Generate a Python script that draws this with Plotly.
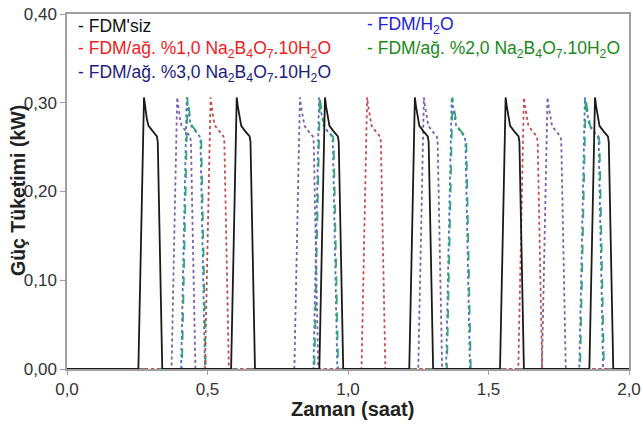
import plotly.graph_objects as go

# Pulse profile (offset from pulse start in hours, power in kW)
profile_dt = [0.0, 0.020, 0.024, 0.030, 0.036, 0.050, 0.066, 0.069, 0.085]
profile_kw = [0.0, 0.306, 0.296, 0.282, 0.274, 0.268, 0.262, 0.256, 0.0]

# Pulse start times (hours) for each series
starts_fdmsiz = [0.254, 0.584, 0.898, 1.218, 1.541, 1.859]
starts_h2o = [0.406, 0.877, 1.349, 1.823]
starts_p1 = [0.491, 1.048, 1.606]
starts_p2 = [0.409, 0.880, 1.352, 1.826]
starts_p3 = [0.372, 0.809, 1.250, 1.690]

x_range = [0.0, 2.0]
y_range = [0.0, 0.40]
x_title = "Zaman (saat)"
y_title = "Güç Tüketimi (kW)"

def build(starts):
    xs, ys = [x_range[0]], [0.0]
    for s in starts:
        for dt, v in zip(profile_dt, profile_kw):
            xs.append(s + dt)
            ys.append(v)
    xs.append(x_range[1]); ys.append(0.0)
    return xs, ys

series = [
    ("FDM/H2O", starts_h2o, "#4a6fc8", "dot"),
    ("FDM/ağ. %2,0", starts_p2, "#34a57c", "dash"),
    ("FDM/ağ. %3,0", starts_p3, "#7e5fa8", "dot"),
    ("FDM/ağ. %1,0", starts_p1, "#c0504d", "dot"),
    ("FDM'siz", starts_fdmsiz, "#1a1a1a", "solid"),
]

FONT = "Liberation Sans, Arial, sans-serif"

W, H = 643, 424
L, R, T, B = 67, 14, 14, 55
pw, ph = W - L - R, H - T - B

def px2paper(px, py):
    return (px - L) / pw, (H - B - py) / ph

fig = go.Figure()
for name, st, col, dash in series:
    xs, ys = build(st)
    fig.add_trace(go.Scatter(x=xs, y=ys, mode="lines", name=name,
                             line=dict(color=col, width=1.8, dash=dash),
                             showlegend=False))

salt = "Na<sub>2</sub>B<sub>4</sub>O<sub>7</sub>.10H<sub>2</sub>O"
legend_items = [
    ("- FDM'siz", "#111111", 76, 26),
    ("- FDM/H<sub>2</sub>O", "#2222dd", 365, 26),
    ("- FDM/ağ. %1,0 " + salt, "#ee1c1c", 76, 50),
    ("- FDM/ağ. %2,0 " + salt, "#1a8a1a", 365, 50),
    ("- FDM/ağ. %3,0 " + salt, "#1c1c80", 76, 73),
]
for txt, col, px, py in legend_items:
    ax, ay = px2paper(px, py)
    fig.add_annotation(xref="paper", yref="paper", x=ax, y=ay,
                       xanchor="left", yanchor="middle", showarrow=False, text=txt,
                       font=dict(color=col, size=17.5, family=FONT))

ax, ay = px2paper(352, 409)
fig.add_annotation(xref="paper", yref="paper", x=ax, y=ay,
                   xanchor="center", yanchor="middle", showarrow=False,
                   text="<b>" + x_title + "</b>",
                   font=dict(size=20, color="#222222", family=FONT))
ax, ay = px2paper(18, 191)
fig.add_annotation(xref="paper", yref="paper", x=ax, y=ay,
                   xanchor="center", yanchor="middle", showarrow=False, textangle=-90,
                   text="<b>" + y_title + "</b>",
                   font=dict(size=19.5, color="#222222", family=FONT))

fig.update_layout(
    width=W, height=H,
    margin=dict(l=L, r=R, t=T, b=B, autoexpand=False),
    paper_bgcolor="white", plot_bgcolor="white",
    separators=", ",
    font=dict(family=FONT, size=17, color="#333333"),
)
fig.update_xaxes(range=x_range, dtick=0.5, tickformat=".1f", showgrid=False, zeroline=False,
                 showline=True, mirror=True, linecolor="#a0a0a0", linewidth=1.5,
                 ticks="outside", ticklen=4, tickcolor="#a0a0a0", automargin=False,
                 ticklabeloverflow="allow")
fig.update_yaxes(range=y_range, dtick=0.10, tickformat=".2f", showgrid=False, zeroline=False,
                 showline=True, mirror=True, linecolor="#a0a0a0", linewidth=1.5,
                 ticks="outside", ticklen=5, tickcolor="#a0a0a0", ticklabelstandoff=0,
                 automargin=False, ticklabeloverflow="allow")

fig.write_html("out.html",
               config={"displayModeBar": False},
               post_script="document.body.style.margin='0px';"
                           "document.documentElement.style.overflow='hidden';")
